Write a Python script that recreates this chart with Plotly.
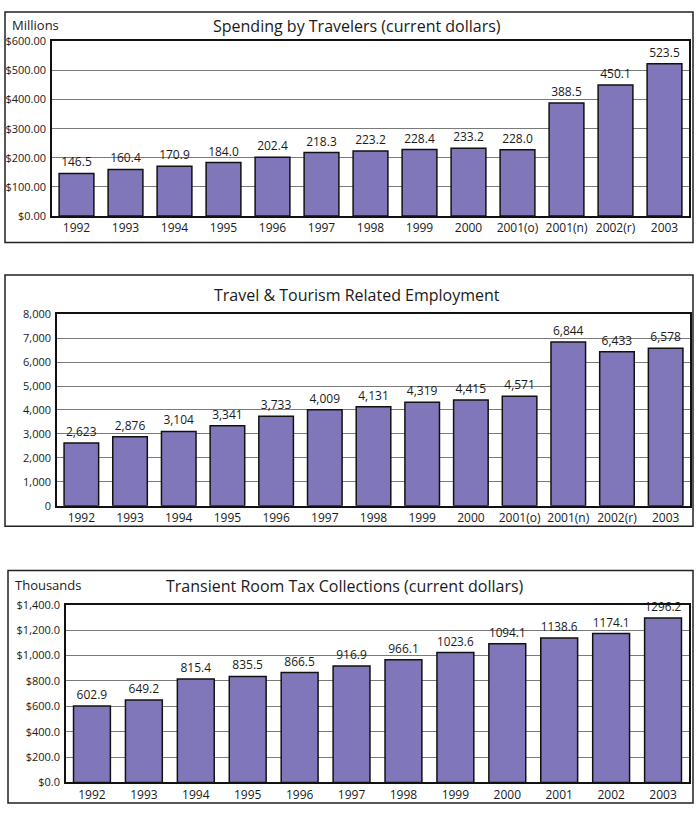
import plotly.graph_objects as go

W, H = 700, 815

cats_a = ["1992", "1993", "1994", "1995", "1996", "1997", "1998", "1999", "2000",
          "2001(o)", "2001(n)", "2002(r)", "2003"]
spending = [146.5, 160.4, 170.9, 184.0, 202.4, 218.3, 223.2, 228.4, 233.2, 228.0,
            388.5, 450.1, 523.5]
employment = [2623, 2876, 3104, 3341, 3733, 4009, 4131, 4319, 4415, 4571, 6844,
              6433, 6578]
cats_c = ["1992", "1993", "1994", "1995", "1996", "1997", "1998", "1999", "2000",
          "2001", "2002", "2003"]
room_tax = [602.9, 649.2, 815.4, 835.5, 866.5, 916.9, 966.1, 1023.6, 1094.1,
            1138.6, 1174.1, 1296.2]

BAR = "#8077bb"
FONT = "Open Sans"
TXT = "#1a1a1a"


def px(x):
    return x / W


def py(y):
    return 1 - y / H


fig = go.Figure()

panels = [
    dict(cats=cats_a, vals=spending, tt="%{y:.1f}", ax="", xd=(52, 689), yd=(212, 34),
         rng=[0, 600], dtick=100, fmt="$,.2f"),
    dict(cats=cats_a, vals=employment, tt="%{y:,.0f}", ax="2", xd=(57, 690), yd=(507, 312),
         rng=[0, 8000], dtick=1000, fmt=","),
    dict(cats=cats_c, vals=room_tax, tt="%{y:.1f}", ax="3", xd=(66, 689), yd=(789, 608),
         rng=[0, 1400], dtick=200, fmt="$,.1f"),
]

for p in panels:
    fig.add_trace(go.Bar(
        x=p["cats"], y=p["vals"], xaxis="x" + p["ax"], yaxis="y" + p["ax"],
        marker=dict(color=BAR, line=dict(color="#111111", width=1.5)),
        texttemplate=p["tt"], textposition="outside", cliponaxis=False,
        textfont=dict(family=FONT, size=12, color=TXT),
        showlegend=False, width=0.71,
    ))
    xa = dict(domain=[px(p["xd"][0]), px(p["xd"][1])], anchor="y" + p["ax"],
              showline=True, mirror=True, linecolor="#111111", linewidth=1.5,
              ticks="", tickfont=dict(family=FONT, size=12, color=TXT), showgrid=False,
              fixedrange=True)
    ya = dict(domain=[py(p["yd"][0]), py(p["yd"][1])], anchor="x" + p["ax"],
              range=p["rng"], dtick=p["dtick"], tickformat=p["fmt"],
              showline=True, mirror=True, linecolor="#111111", linewidth=1.5,
              showgrid=True, gridcolor="#7a7a7a", gridwidth=1, zeroline=False,
              ticks="", ticklabelstandoff=2,
              tickfont=dict(family=FONT, size=11, color=TXT), fixedrange=True)
    k = p["ax"] if p["ax"] else ""
    fig.update_layout(**{"xaxis" + k: xa, "yaxis" + k: ya})

# outer frames
frames = [(5, 4, 693, 239), (5, 272, 693, 528), (8, 573, 693, 810)]
shapes = []
for x0, y0, x1, y1 in frames:
    shapes.append(dict(type="rect", xref="paper", yref="paper",
                       x0=px(x0), x1=px(x1), y0=py(y1), y1=py(y0),
                       line=dict(color="#222222", width=1.5), fillcolor="rgba(0,0,0,0)"))

annotations = [
    dict(text="Spending by Travelers (current dollars)", x=px(357), y=py(18),
         font=dict(size=16)),
    dict(text="Millions", x=px(10), y=py(17), xanchor="left", font=dict(size=13)),
    dict(text="Travel & Tourism Related Employment", x=px(357), y=py(292),
         font=dict(size=16)),
    dict(text="Transient Room Tax Collections (current dollars)", x=px(345), y=py(589),
         font=dict(size=16)),
    dict(text="Thousands", x=px(13), y=py(588), xanchor="left", font=dict(size=13)),
]
for a in annotations:
    a.setdefault("xanchor", "center")
    a.update(xref="paper", yref="paper", showarrow=False, yanchor="middle")
    a["font"].update(family=FONT, color=TXT)

fig.update_layout(
    width=W, height=H, margin=dict(l=0, r=0, t=0, b=0),
    paper_bgcolor="white", plot_bgcolor="white",
    shapes=shapes, annotations=annotations, bargap=0.29,
    font=dict(family=FONT, color=TXT),
)

fig.write_html("out.html", config={"displayModeBar": False},
               post_script="document.body.style.margin='0';document.body.style.overflow='hidden';")
